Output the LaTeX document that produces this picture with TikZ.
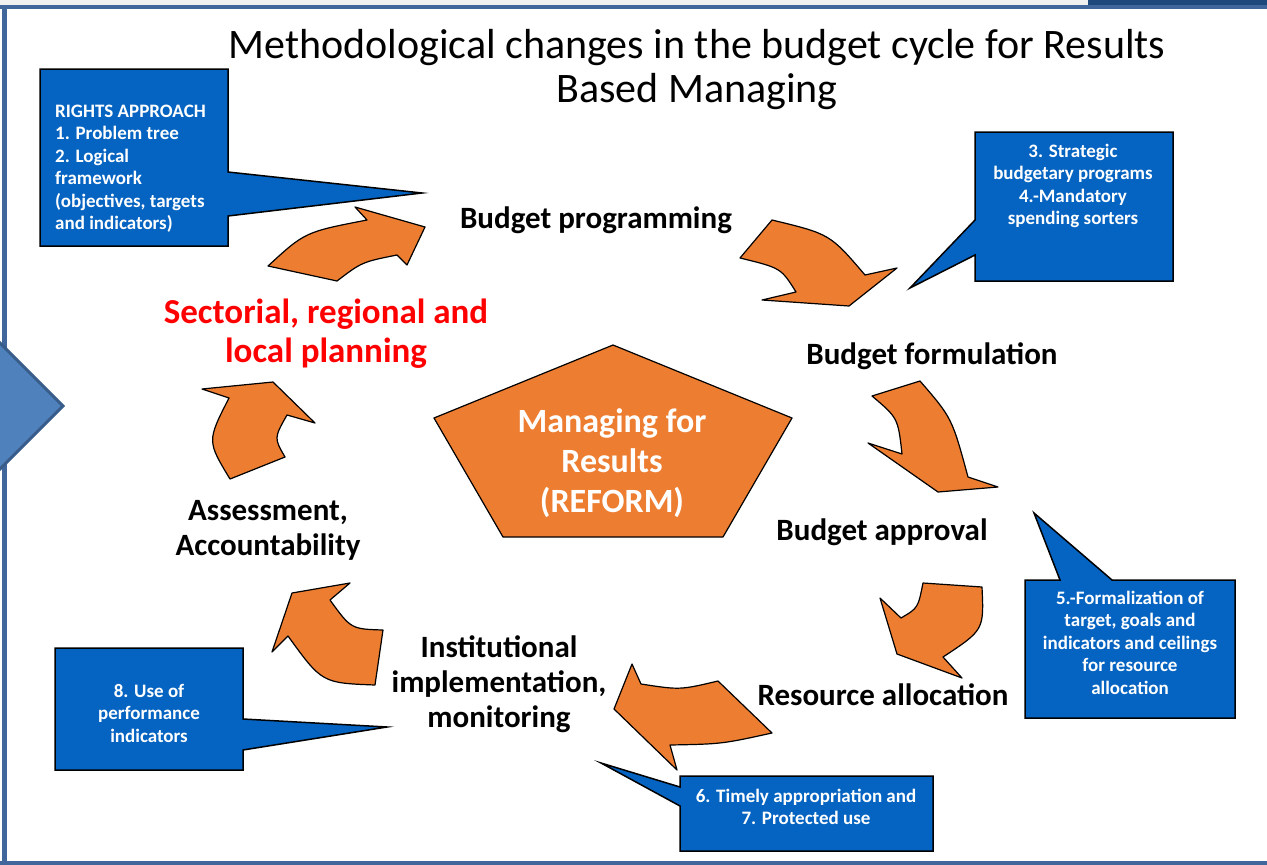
\documentclass[tikz,border=0pt]{standalone}
\usepackage{fontspec}
\setmainfont{Carlito}
\definecolor{arroworange}{HTML}{ED7D31}
\definecolor{calloutblue}{HTML}{0563C1}
\definecolor{frameblue}{HTML}{41669B}
\definecolor{topbar}{HTML}{1F497D}
\definecolor{chevronblue}{HTML}{4F81BD}
\definecolor{chevronline}{HTML}{385D8A}

\begin{document}
\begin{tikzpicture}[x=1pt, y=-1pt]
    \tikzstyle{every node}=[inner sep=0pt]
    \tikzstyle{cyclearrow}=[fill=arroworange, draw=black, line width=1.2pt, line join=round]
    \tikzstyle{callout}=[fill=calloutblue, draw=black, line width=1.5pt]
    \tikzstyle{calltext}=[text=white, font=\fontsize{19}{22.5}\selectfont\bfseries, align=center, anchor=base]
    \tikzstyle{stage}=[font=\fontsize{31}{35}\selectfont\bfseries, align=center, anchor=base]
    \useasboundingbox (0,0) rectangle (1267,865);
    % slide frame
    \fill[black!6] (0,0) rectangle (1088,5);
    \fill[topbar] (1088,0) rectangle (1267,5);
    \fill[frameblue] (0,5) rectangle (1267,9);
    \fill[frameblue] (0,861) rectangle (1267,865);
    \fill[frameblue] (2,5) rectangle (7,865);
    \draw[chevronline, line width=3pt, fill=chevronblue] (-5,338) -- (63,406) -- (-5,474) -- cycle;
    \node[font=\fontsize{42}{44}\selectfont, align=center, anchor=base] (title) at (697,102) {Methodological changes in the budget cycle for Results\\Based Managing};
    % centre
    \draw[cyclearrow] (613,345) -- (792,418) -- (723,537) -- (503,537) -- (434,418) -- cycle;
    \node[text=white, font=\fontsize{34}{40}\selectfont\bfseries, align=center, anchor=base] (reform) at (612,512) {Managing for\\Results\\(REFORM)};
    % cycle arrows
    \draw[cyclearrow] (268,266) .. controls (305,232) .. (367,220) -- (355,207) -- (425,227) -- (407,265) -- (397,255) .. controls (362,262) .. (337,281) -- cycle;
    \draw[cyclearrow] (772,220) .. controls (830,234) .. (865,275) -- (897,268) -- (849,306) -- (762,300) -- (796,292) .. controls (781,268) .. (740,258) -- cycle;
    \draw[cyclearrow] (872,396) -- (920,381) .. controls (952,418) .. (968,477) -- (998,487) -- (938,492) -- (868,443) -- (902,454) .. controls (898,418) .. (872,396) -- cycle;
    \draw[cyclearrow] (923,583) -- (982,587) .. controls (984,630) .. (943,657) -- (962,678) -- (897,654) -- (880,598) -- (901,618) .. controls (918,608) .. (923,583) -- cycle;
    \draw[cyclearrow] (614,709) -- (632,664) -- (641,684) .. controls (680,690) .. (718,681) -- (772,733) .. controls (722,744) .. (670,745) -- (677,770) -- cycle;
    \draw[cyclearrow] (230,479) -- (285,457) .. controls (274,438) .. (287,415) -- (315,423) -- (273,382) -- (202,389) -- (229,398) .. controls (207,441) .. (230,479) -- cycle;
    \draw[cyclearrow] (383,630) -- (375,685) .. controls (322,683) .. (288,636) -- (272,652) -- (292,593) -- (350,583) -- (330,600) .. controls (351,629) .. (383,630) -- cycle;
    % stages
    \node[stage] (programming) at (596,228) {Budget programming};
    \node[stage] (formulation) at (932,364) {Budget formulation};
    \node[stage] (approval) at (882,540) {Budget approval};
    \node[stage] (allocation) at (883,705) {Resource allocation};
    \node[stage] (implementation) at (499,727) {Institutional\\implementation,\\monitoring};
    \node[stage] (assessment) at (268,555) {Assessment,\\Accountability};
    \node[stage, text=red, font=\fontsize{35}{39}\selectfont\bfseries] (planning) at (326,362) {Sectorial, regional and\\local planning};
    % callouts
    \draw[callout] (40,69) -- (228,69) -- (228,172) -- (422,193) -- (228,216) -- (228,246) -- (40,246) -- cycle;
    \node[calltext, align=left, anchor=base west] (rights) at (55,229.5) {RIGHTS APPROACH\\1. Problem tree\\2. Logical\\framework\\(objectives, targets\\and indicators)};
    \draw[callout] (975,132) -- (1173,132) -- (1173,281) -- (975,281) -- (975,255) -- (910,288) -- (975,220) -- cycle;
    \node[calltext] (strategic) at (1073,224.5) {3. Strategic\\budgetary programs\\4.-Mandatory\\spending sorters};
    \draw[callout] (1025,580) -- (1060,580) -- (1034,513) -- (1112,580) -- (1235,580) -- (1235,718) -- (1025,718) -- cycle;
    \node[calltext] (formalization) at (1130,694) {5.-Formalization of\\target, goals and\\indicators and ceilings\\for resource\\allocation};
    \draw[callout] (680,776) -- (933,776) -- (933,851) -- (680,851) -- (680,806) -- (601,763) -- (680,787) -- cycle;
    \node[calltext] (appropriation) at (806,824.5) {6. Timely appropriation and\\7. Protected use};
    \draw[callout] (55,648) -- (243,648) -- (243,719) -- (387,727) -- (243,750) -- (243,770) -- (55,770) -- cycle;
    \node[calltext] (indicators) at (149,742) {8. Use of\\performance\\indicators};
\end{tikzpicture}
\end{document}
